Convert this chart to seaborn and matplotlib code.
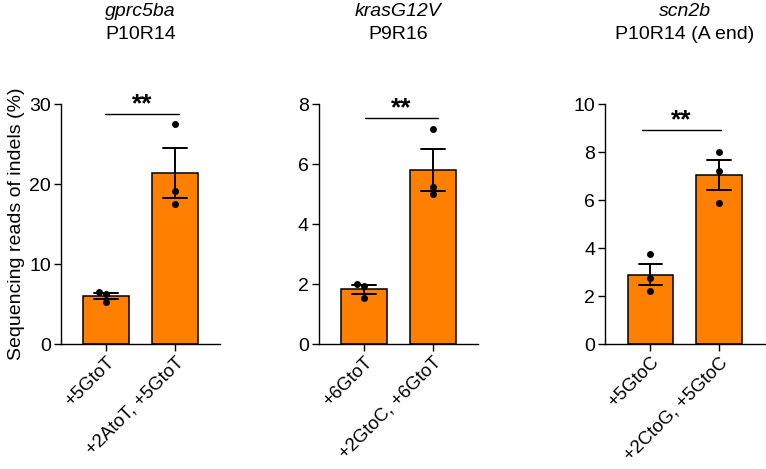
import matplotlib
matplotlib.use("Agg")
import matplotlib.pyplot as plt
import seaborn as sns
import pandas as pd

# ---- data ----
genes = ["gprc5ba", "krasG12V", "scn2b"]
subtitles = ["P10R14", "P9R16", "P10R14 (A end)"]
cats_1 = ["+5GtoT", "+2AtoT, +5GtoT"]
cats_2 = ["+6GtoT", "+2GtoC, +6GtoT"]
cats_3 = ["+5GtoC", "+2CtoG, +5GtoC"]
vals_1a = [6.55, 6.25, 5.25]
vals_1b = [27.47, 19.16, 17.5]
vals_2a = [2.01, 1.93, 1.54]
vals_2b = [7.17, 5.23, 4.99]
vals_3a = [3.73, 2.73, 2.22]
vals_3b = [8.0, 7.22, 5.87]
ymax = [30, 8, 10]
ytick_step = [10, 2, 2]
sig_y = [28.8, 7.54, 8.93]
sig_label = ["**", "**", "**"]
ylabel = "Sequencing reads of indels (%)"

panels = [
    (cats_1, vals_1a, vals_1b),
    (cats_2, vals_2a, vals_2b),
    (cats_3, vals_3a, vals_3b),
]

sns.set_style("ticks")
plt.rcParams["font.family"] = ["Liberation Sans", "DejaVu Sans"]
plt.rcParams["text.color"] = "black"
plt.rcParams["axes.labelcolor"] = "black"

FS = 14
orange = "#FF7F00"

fig = plt.figure(figsize=(7.66, 4.69), dpi=100)
lefts = [60.7, 318.7, 605.0]
W, H = 766.0, 469.0
sig_x = [(-0.01, 1.06), (0.02, 1.07), (-0.12, 1.03)]

for i, (cats, va, vb) in enumerate(panels):
    ax = fig.add_axes([lefts[i] / W, (H - 344) / H, 159.5 / W, 240 / H])
    df = pd.DataFrame({
        "group": [cats[0]] * len(va) + [cats[1]] * len(vb),
        "value": list(va) + list(vb),
    })
    sns.barplot(data=df, x="group", y="value", order=cats, ax=ax,
                color=orange, saturation=1, width=0.66,
                errorbar="se", capsize=0.34,
                err_kws={"color": "black", "linewidth": 1.4},
                edgecolor="black", linewidth=1.1)
    sns.swarmplot(data=df, x="group", y="value", order=cats, ax=ax,
                  color="black", size=5.0, zorder=5)
    ax.set_xlim(-0.66, 1.66)
    ax.set_ylim(0, ymax[i])
    ax.set_yticks(range(0, ymax[i] + 1, ytick_step[i]))
    ax.set_xlabel("")
    ax.set_ylabel(ylabel if i == 0 else "", fontsize=FS, labelpad=3)
    sns.despine(ax=ax)
    for s in ["left", "bottom"]:
        ax.spines[s].set_linewidth(1.0)
        ax.spines[s].set_color("black")
    ax.tick_params(axis="both", length=5, width=1.0, color="black",
                   labelsize=FS, labelcolor="black")
    ax.tick_params(axis="y", pad=2)
    ax.tick_params(axis="x", pad=2, labelsize=13.3)
    for lab in ax.get_xticklabels():
        lab.set_rotation(45)
        lab.set_ha("right")
        lab.set_rotation_mode("anchor")
    # significance
    x0, x1 = sig_x[i]
    ax.plot([x0, x1], [sig_y[i], sig_y[i]], color="black", lw=1.0,
            clip_on=False)
    ax.annotate(sig_label[i], xy=((x0 + x1) / 2, sig_y[i]),
                xytext=(0, -2), textcoords="offset points",
                ha="center", va="bottom", fontsize=19, fontweight="bold",
                annotation_clip=False)
    # titles
    ax.text(0.5, 1.270, subtitles[i], transform=ax.transAxes,
            ha="center", va="baseline", fontsize=FS)
    ax.text(0.5, 1.368, genes[i], transform=ax.transAxes,
            ha="center", va="baseline", fontsize=FS, style="italic")

fig.savefig("out.png", dpi=100)
